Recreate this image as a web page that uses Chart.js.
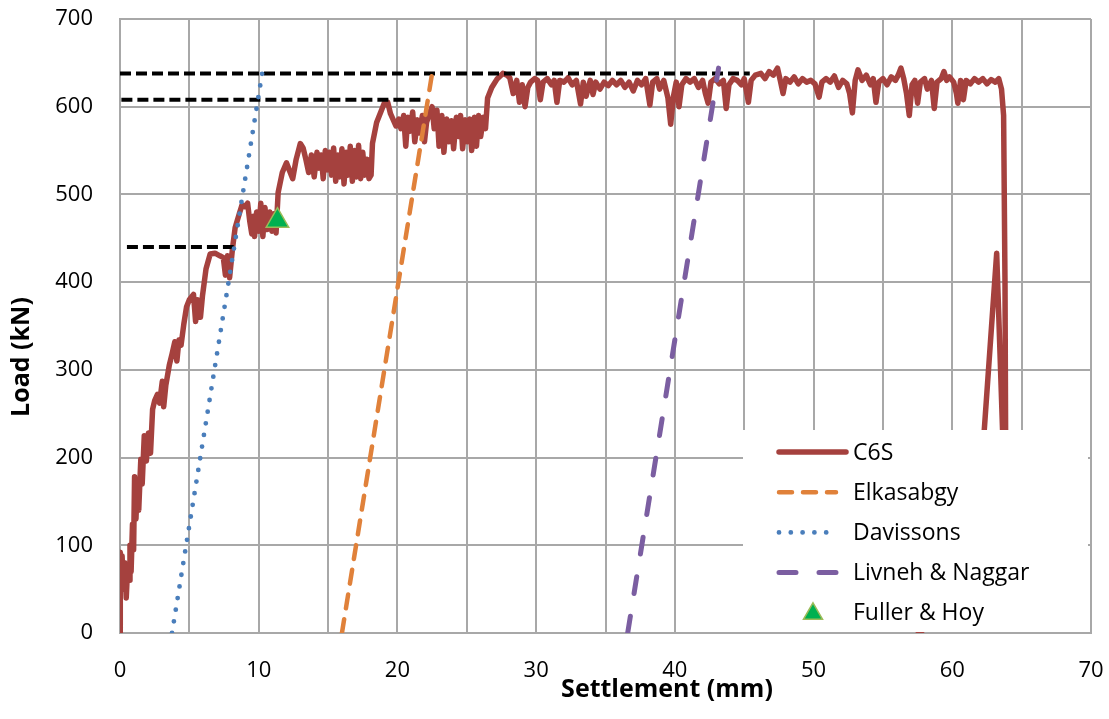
<!DOCTYPE html>
<html><head><meta charset="utf-8">
<script src="https://cdn.jsdelivr.net/npm/chart.js@4.4.0/dist/chart.umd.min.js"></script>
<style>html,body{margin:0;padding:0;background:#fff;} canvas{display:block;}</style>
</head><body>
<canvas id="c" width="1109" height="719"></canvas>
<script>
// ---- data ----
const xTicks = [0, 10, 20, 30, 40, 50, 60, 70];
const yTicks = [0, 100, 200, 300, 400, 500, 600, 700];
const seriesNames = ['C6S', 'Elkasabgy', 'Davissons', 'Livneh & Naggar', 'Fuller & Hoy'];
const xTitle = 'Settlement (mm)';
const yTitle = 'Load (kN)';

const c6sPoints = [
 [0,0],[0.02,92],[0.1,75],[0.15,88],[0.25,50],[0.35,80],[0.45,40],[0.55,75],[0.65,60],[0.72,100],[0.8,70],[0.9,124],[0.98,95],
 [1.05,178],[1.15,130],[1.25,172],[1.35,140],[1.5,198],[1.6,170],[1.75,225],[1.9,196],[2.05,228],[2.2,205],[2.35,255],[2.5,265],
 [2.7,272],[2.85,262],[3.05,287],[3.15,258],[3.3,282],[3.55,305],[3.75,318],[3.95,332],[4.1,310],[4.25,334],[4.4,328],[4.6,352],
 [4.8,372],[5.0,380],[5.3,386],[5.45,355],[5.6,380],[5.8,360],[5.95,385],[6.2,415],[6.5,432],[6.85,433],[7.2,430],[7.45,428],
 [7.6,408],[7.75,430],[7.9,405],[8.1,437],[8.3,462],[8.6,478],[8.8,488],[9.0,486],[9.2,490],[9.35,470],[9.5,455],[9.6,475],
 [9.7,452],[9.85,480],[10.0,458],[10.15,490],[10.3,452],[10.45,485],[10.6,460],[10.8,480],[10.95,458],[11.1,478],[11.25,456],
 [11.4,502],[11.7,525],[12.0,536],[12.2,528],[12.45,518],[12.7,540],[13.0,558],[13.2,553],[13.4,540],[13.6,525],
 [13.8,545],[14.0,520],[14.2,548],[14.35,530],[14.5,545],[14.65,518],[14.8,550],[14.95,528],[15.1,548],[15.25,522],[15.4,553],
 [15.55,515],[15.7,545],[15.85,520],[16.0,552],[16.15,512],[16.3,548],[16.45,522],[16.6,555],[16.75,515],[16.9,550],[17.05,520],
 [17.2,556],[17.35,518],[17.5,548],[17.65,522],[17.8,540],[17.95,518],[18.1,522],[18.2,558],
 [18.5,582],[18.8,594],[19.05,604],[19.3,605],[19.5,592],[19.7,585],[19.9,578],[20.1,586],[20.25,575],[20.45,590],[20.6,555],
 [20.75,588],[20.9,572],[21.1,594],[21.25,560],[21.45,585],[21.6,570],[21.8,590],[21.95,560],[22.1,582],[22.3,592],[22.5,600],
 [22.65,575],[22.85,596],[23.0,555],[23.2,590],[23.35,548],[23.55,586],[23.7,560],[23.9,584],[24.05,552],[24.25,588],[24.4,566],
 [24.55,590],[24.7,552],[24.9,585],[25.05,560],[25.2,586],[25.35,550],[25.55,588],[25.7,555],[25.85,590],[26.0,566],[26.2,588],
 [26.35,575],[26.5,610],[26.8,622],[27.2,632],[27.6,638],[27.9,636],[28.1,633],[28.35,615],[28.6,630],[28.8,605],[29.0,625],
 [29.2,600],[29.4,622],[29.6,628],[29.9,632],[30.1,630],[30.3,608],[30.5,628],[30.8,632],[31.1,625],[31.3,630],[31.5,605],
 [31.7,630],[32.0,628],[32.3,633],[32.6,625],[32.9,630],[33.2,603],[33.4,628],[33.6,612],[33.9,630],[34.1,614],[34.3,628],
 [34.6,620],[34.9,628],[35.2,624],[35.5,630],[35.8,625],[36.1,630],[36.4,622],[36.7,628],[37.0,618],[37.3,630],[37.6,625],
 [37.9,632],[38.2,602],[38.4,628],[38.7,632],[38.9,620],[39.2,630],[39.5,610],[39.7,580],[39.9,612],[40.1,628],[40.3,600],
 [40.5,625],[40.8,632],[41.1,628],[41.4,632],[41.7,622],[42.0,630],[42.2,615],[42.4,604],[42.6,628],[42.9,632],[43.2,626],
 [43.5,630],[43.7,598],[43.9,625],[44.2,632],[44.5,630],[44.8,625],[45.0,632],[45.3,605],[45.5,630],[45.8,636],[46.2,638],
 [46.5,632],[46.8,640],[47.1,636],[47.4,644],[47.6,630],[47.8,615],[48.0,632],[48.3,628],[48.6,634],[48.9,626],[49.2,632],
 [49.5,628],[49.8,630],[50.1,626],[50.4,611],[50.6,628],[50.9,632],[51.2,628],[51.5,635],[51.8,622],[52.1,630],[52.4,626],
 [52.6,615],[52.8,593],[53.0,630],[53.2,642],[53.5,630],[53.8,636],[54.1,625],[54.3,632],[54.5,605],[54.7,628],[55.0,632],
 [55.3,625],[55.6,634],[55.9,630],[56.1,636],[56.3,644],[56.5,632],[56.7,615],[56.9,590],[57.1,625],[57.3,630],[57.5,604],
 [57.7,628],[58.0,632],[58.2,620],[58.5,630],[58.7,598],[58.9,628],[59.2,632],[59.4,640],[59.6,630],[59.8,634],[60.1,628],
 [60.3,615],[60.4,604],[60.6,630],[60.8,608],[61.0,630],[61.3,626],[61.6,632],[61.9,628],[62.2,632],[62.5,626],[62.8,631],
 [63.1,628],[63.35,632],[63.55,620],[63.7,590],[63.8,400],[63.9,5],
 [61.3,5],[63.2,433],[64.1,5],[58.0,5],[57.4,-3],[56.7,-3]
];
const elkasabgyX = [16.0, 22.5];
const elkasabgyY = [0, 638];
const davissonsX = [3.75, 10.25];
const davissonsY = [0, 638];
const livnehX = [36.6, 43.15];
const livnehY = [0, 644];
const fullerX = [11.35];
const fullerY = [470];
// black dashed reference levels: load, start settlement, end settlement
const refLoads = [638, 608, 440];
const refStart = [0, 0.1, 0.5];
const refEnd = [45.4, 21.8, 8.2];

// ---- styles ----
const FONT = '"Open Sans", Lato, sans-serif';
const GRID = '#a8a8a8';
const colors = {c6s:'#a5413e', elk:'#e0813a', dav:'#4a7ebb', liv:'#7b5ea1', fulFill:'#00b050', fulBorder:'#9bbb59'};
const pair = (xs, ys) => xs.map((x, i) => ({x, y: ys[i]}));

const datasets = [];
datasets.push({label: seriesNames[4], data: pair(fullerX, fullerY), showLine: false, pointStyle: 'triangle',
  pointRadius: 13, backgroundColor: colors.fulFill, borderColor: colors.fulBorder, borderWidth: 1.5, order: 0});
datasets.push({label: seriesNames[3], data: pair(livnehX, livnehY), showLine: true, borderColor: colors.liv,
  borderWidth: 5, borderDash: [17, 23], borderCapStyle: 'round', pointRadius: 0, order: 1});
datasets.push({label: seriesNames[2], data: pair(davissonsX, davissonsY), showLine: true, borderColor: colors.dav,
  borderWidth: 4.8, borderDash: [0, 11.8], borderCapStyle: 'round', pointRadius: 0, order: 2});
datasets.push({label: seriesNames[1], data: pair(elkasabgyX, elkasabgyY), showLine: true, borderColor: colors.elk,
  borderWidth: 4.5, borderDash: [14, 11], borderCapStyle: 'round', pointRadius: 0, order: 3});
refLoads.forEach((L, i) => {
  datasets.push({label: 'ref' + i, data: [{x: refStart[i], y: L}, {x: refEnd[i], y: L}], showLine: true,
    borderColor: '#000', borderWidth: 4, borderDash: [11, 5], pointRadius: 0, order: 4});
});
datasets.push({label: seriesNames[0], data: c6sPoints.map(p => ({x: p[0], y: p[1]})), showLine: true,
  borderColor: colors.c6s, borderWidth: 5.5, borderJoinStyle: 'round', borderCapStyle: 'round', pointRadius: 0, order: 10});

const legendItems = [
  {text: seriesNames[0], color: colors.c6s, dash: [], width: 5.5, end: 848},
  {text: seriesNames[1], color: colors.elk, dash: [13, 11], width: 4.5, end: 838},
  {text: seriesNames[2], color: colors.dav, dash: [0, 11.8], width: 4.8, end: 838},
  {text: seriesNames[3], color: colors.liv, dash: [17, 23], width: 5, end: 838},
  {text: seriesNames[4], marker: true}
];

const insideLegend = {
  id: 'insideLegend',
  afterDatasetsDraw(chart) {
    const ctx = chart.ctx;
    const a = chart.chartArea;
    ctx.save();
    ctx.fillStyle = '#fff';
    ctx.fillRect(a.right - 348, 430, 345, a.bottom - 431);
    legendItems.forEach((it, i) => {
      const y = 452 + i * 40.2;
      if (it.marker) {
        const cx = 813, cy = y + 1, r = 11;
        ctx.beginPath();
        ctx.moveTo(cx, cy - r);
        ctx.lineTo(cx + r * 0.866, cy + r * 0.5);
        ctx.lineTo(cx - r * 0.866, cy + r * 0.5);
        ctx.closePath();
        ctx.fillStyle = colors.fulFill; ctx.fill();
        ctx.lineWidth = 1.5; ctx.strokeStyle = colors.fulBorder; ctx.stroke();
      } else {
        ctx.beginPath();
        ctx.setLineDash(it.dash);
        ctx.lineCap = 'round';
        ctx.lineWidth = it.width;
        ctx.strokeStyle = it.color;
        ctx.moveTo(779, y); ctx.lineTo(it.end - 2, y);
        ctx.stroke();
        ctx.setLineDash([]);
      }
      ctx.fillStyle = '#000';
      ctx.font = '23px ' + FONT;
      ctx.textBaseline = 'middle';
      ctx.textAlign = 'left';
      ctx.fillText(it.text, 853, y + 1);
    });
    ctx.restore();
  },
  afterDraw(chart) {
    const ctx = chart.ctx;
    ctx.save();
    ctx.fillStyle = '#000';
    ctx.font = 'bold 25px ' + FONT;
    ctx.textAlign = 'center';
    ctx.textBaseline = 'alphabetic';
    ctx.fillText(xTitle, 667, 697);
    ctx.translate(29, 357);
    ctx.rotate(-Math.PI / 2);
    ctx.fillText(yTitle, 0, 0);
    ctx.restore();
  }
};

new Chart(document.getElementById('c'), {
  type: 'scatter',
  data: {datasets},
  plugins: [insideLegend],
  options: {
    responsive: false,
    animation: false,
    devicePixelRatio: 1,
    layout: {padding: {top: 19, right: 18, left: 0, bottom: 0}},
    plugins: {legend: {display: false}, tooltip: {enabled: false}},
    scales: {
      x: {
        type: 'linear', min: 0, max: 70,
        afterBuildTicks(s) { const t = []; for (let v = 0; v <= 70; v += 5) t.push({value: v}); s.ticks = t; },
        ticks: {autoSkip: false, maxRotation: 0, padding: 25, color: '#000', font: {family: FONT, size: 22},
          callback: v => xTicks.includes(v) ? String(v) : ''},
        grid: {color: GRID, lineWidth: 2, drawTicks: false},
        border: {color: GRID, width: 2},
        afterFit(s) { s.height = 86; s.paddingLeft = 0; s.paddingRight = 0; }
      },
      y: {
        type: 'linear', min: 0, max: 700,
        afterBuildTicks(s) { s.ticks = yTicks.map(v => ({value: v})); },
        ticks: {padding: 27, color: '#000', font: {family: FONT, size: 22}},
        grid: {color: GRID, lineWidth: 2, drawTicks: false},
        border: {color: GRID, width: 2},
        afterFit(s) { s.width = 120; s.paddingTop = 0; s.paddingBottom = 0; }
      }
    }
  }
});
</script>
</body></html>
